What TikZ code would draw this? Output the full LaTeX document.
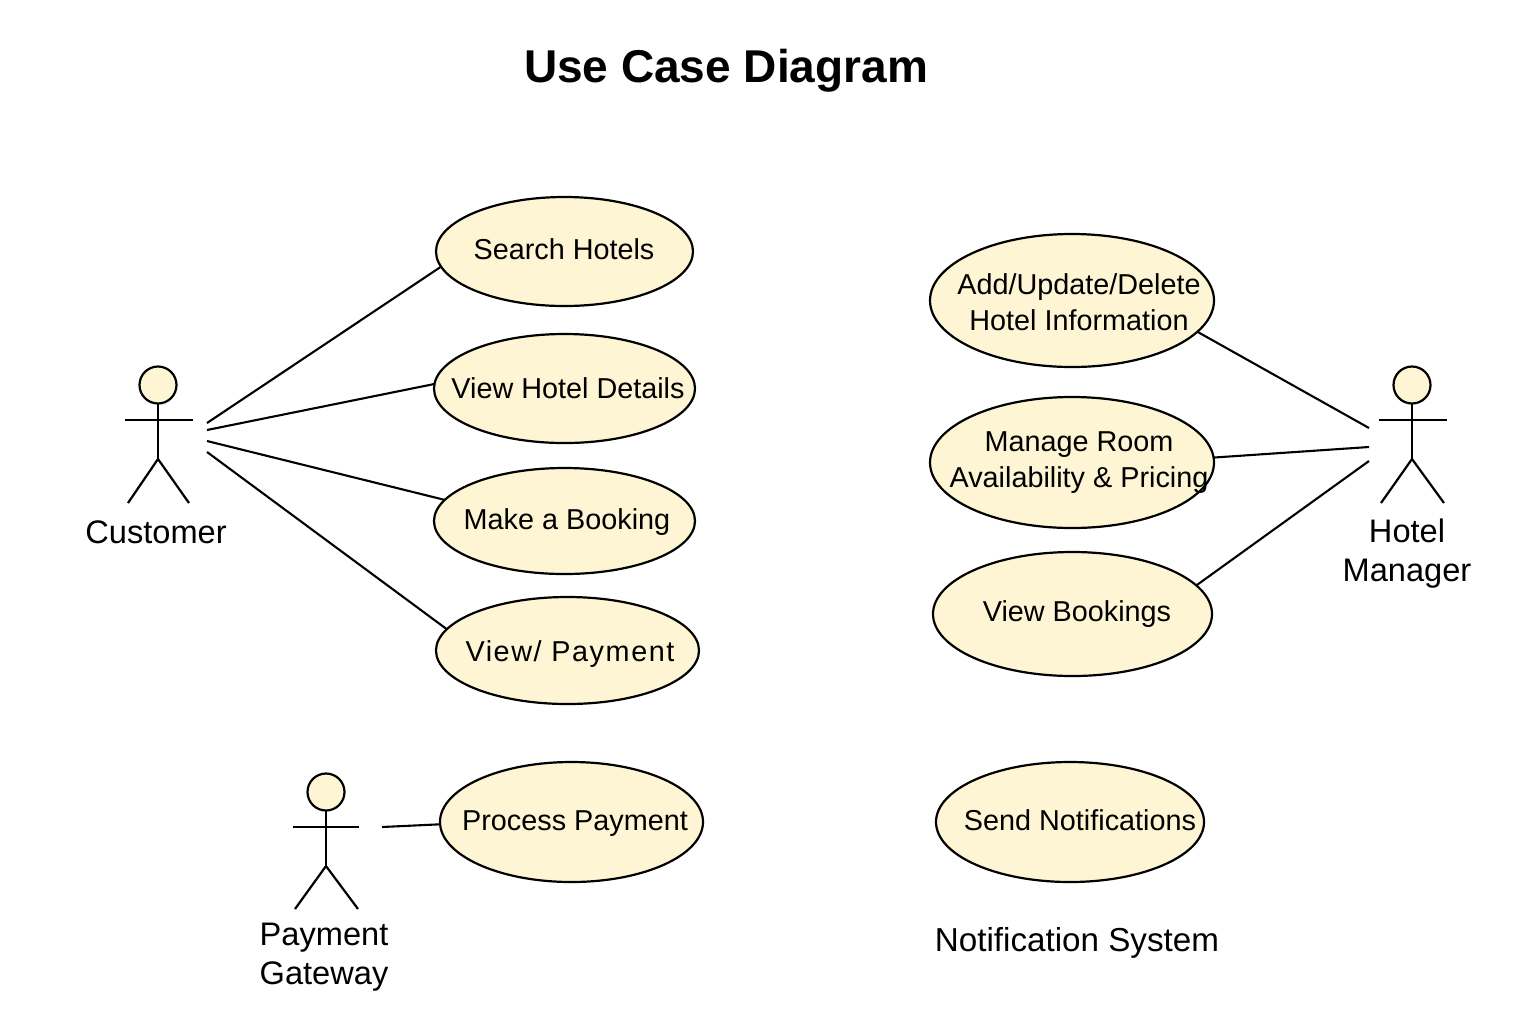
\documentclass[tikz,border=0pt]{standalone}
\usepackage{fontspec}
\setmainfont{Liberation Sans}
\usetikzlibrary{shapes.geometric}
\definecolor{ucfill}{HTML}{FDF5D3}
\tikzset{
  uc/.style 2 args={ellipse,draw=black,fill=ucfill,line width=1.1pt,inner sep=0pt,outer sep=0pt,minimum width={#1*0.5pt},minimum height={#2*0.5pt}},
  uctext/.style={font=\fontsize{14.4}{18}\selectfont,align=center,inner sep=0pt,text depth=0pt,text height=10.4pt},
  uctwo/.style={font=\fontsize{14.4}{18}\selectfont,align=center,inner sep=0pt},
  actorlabel/.style={font=\fontsize{16.3}{19.5}\selectfont,align=center,inner sep=0pt},
  titletext/.style={font=\bfseries\fontsize{23}{28}\selectfont,inner sep=0pt,text depth=0pt,text height=16.6pt},
  limb/.style={line width=1.1pt,draw=black},
  head/.style={circle,draw=black,fill=ucfill,line width=1.1pt,inner sep=0pt,outer sep=0pt,minimum size=18.5pt},
  assoc/.style={line width=1.05pt,draw=black},
}
\newcommand{\stickfigure}[8]{%
  % #1 name, #2 head x, #3 head y, #4 arm left, #5 arm right, #6 leg left, #7 leg right, #8 foot y
  \node[head] (#1head) at (#2,#3) {};
  \coordinate (#1hip) at (#2,#3+74);
  \coordinate (#1arml) at (#4,#3+35);
  \coordinate (#1armr) at (#5,#3+35);
  \coordinate (#1footl) at (#6,#8);
  \coordinate (#1footr) at (#7,#8);
  \draw[limb] (#1head.south) -- (#1hip);
  \draw[limb] (#1arml) -- (#1armr);
  \draw[limb] (#1footl) -- (#1hip) -- (#1footr);
}
\begin{document}
\begin{tikzpicture}[x=0.5pt,y=-0.5pt]
\useasboundingbox (0,0) rectangle (1536,1024);
\fill[white] (0,0) rectangle (1536,1024);
\node[titletext] (title) at (726,66) {Use Case Diagram};

% use cases
\node[uc={257}{109}] (search) at (564.5,251.5) {};
\node[uc={261}{109}] (details) at (564.5,388.5) {};
\node[uc={261}{106}] (booking) at (564.5,521) {};
\node[uc={263}{107}] (viewpay) at (567.5,650.5) {};
\node[uc={263}{120}] (process) at (571.5,822) {};
\node[uc={284}{133}] (hotelinfo) at (1072,300.5) {};
\node[uc={284}{131}] (rooms) at (1072,462.5) {};
\node[uc={279}{124}] (viewbook) at (1072.5,614) {};
\node[uc={268}{120}] (notify) at (1070,822) {};

\node[uctext] (tsearch) at (564,249) {Search Hotels};
\node[uctext] (tdetails) at (568,388) {View Hotel Details};
\node[uctext] (tbooking) at (567,519) {Make a Booking};
\node[uctext] (tviewpay) at (570,651) {\addfontfeature{LetterSpace=5.5}View/ Payment};
\node[uctext] (tprocess) at (575,820) {Process Payment};
\node[uctwo] (tinfo) at (1079,302) {Add/Update/Delete\\Hotel Information};
\node[uctwo] (trooms) at (1079,462.5) {Manage Room\\Availability \& Pricing};
\node[uctext] (tviewbook) at (1077,611) {View Bookings};
\node[uctext] (tnotify) at (1080,820) {Send Notifications};

% actors
\stickfigure{cust}{158}{385}{125}{193}{128}{189}{503}
\stickfigure{mgr}{1412}{385}{1379}{1447}{1381}{1444}{503}
\stickfigure{gate}{326}{792}{293}{359}{295}{358}{909}

\node[actorlabel] (lcust) at (156,532) {Customer};
\node[actorlabel] (lmgr) at (1407,554) {Hotel\\Manager};
\node[actorlabel] (lgate) at (324,957) {Payment\\Gateway};
\node[actorlabel,font=\fontsize{16.6}{19.5}\selectfont] (lnotify) at (1077,943) {Notification System};

% free connector ends near the actors
\coordinate (c1) at (207,423);
\coordinate (c2) at (207,430);
\coordinate (c3) at (207,441);
\coordinate (c4) at (207,452);
\coordinate (m1) at (1369,428);
\coordinate (m2) at (1369,447);
\coordinate (m3) at (1369,461);
\coordinate (g1) at (382,827);

\draw[assoc] (c1) -- (search.187.15);
\draw[assoc] (c2) -- (details.178);
\draw[assoc] (c3) -- (booking.170.65);
\draw[assoc] (c4) -- (viewpay.170.5);
\draw[assoc] (m1) -- (hotelinfo.346);
\draw[assoc] (m2) -- (rooms.2.6);
\draw[assoc] (m3) -- (viewbook.13.5);
\draw[assoc] (g1) -- (process.181.3);
\end{tikzpicture}
\end{document}
